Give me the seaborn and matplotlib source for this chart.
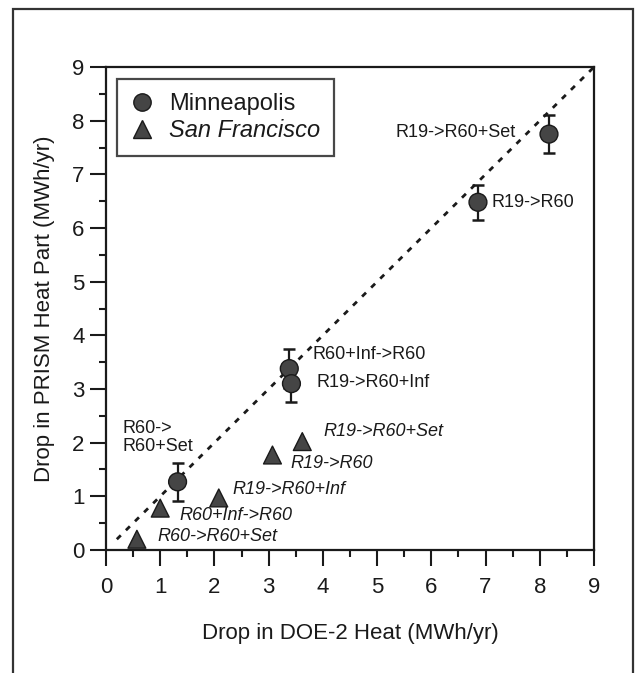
import matplotlib
matplotlib.use("Agg")
import matplotlib.pyplot as plt
from matplotlib.lines import Line2D
from matplotlib.patches import Rectangle
import numpy as np
import pandas as pd
import seaborn as sns

# ---- data ----
mpls_x = [8.17, 6.86, 3.38, 3.42, 1.32]
mpls_y = [7.75, 6.48, 3.38, 3.10, 1.27]
mpls_err = [0.35, 0.33, 0.36, 0.34, 0.35]
mpls_labels = ["R19->R60+Set", "R19->R60", "R60+Inf->R60", "R19->R60+Inf", "R60->\nR60+Set"]

sf_x = [3.62, 3.07, 2.08, 1.00, 0.57]
sf_y = [2.02, 1.77, 0.97, 0.78, 0.20]
sf_labels = ["R19->R60+Set", "R19->R60", "R19->R60+Inf", "R60+Inf->R60", "R60->R60+Set"]

diag = [0.2, 9.0]
ticks = list(range(0, 10))

# label offsets (points) and alignment
mpls_off = [(-24, 1), (10, 0), (17, 10), (18, 1), (-40, 32)]
mpls_ha = ["right", "left", "left", "left", "left"]
sf_off = [(15, 7), (13, -6), (10, 6), (14, -5), (15, 2)]

sns.set_style("ticks")
plt.rcParams["font.family"] = ["Liberation Sans", "DejaVu Sans"]
ink = "#1a1a1a"
fill = "#454545"

fig = plt.figure(figsize=(6.37, 6.73), dpi=100)
ax = fig.add_axes([0.1664, 0.1828, 0.9325 - 0.1664, 0.9004 - 0.1828])

# figure frame
fig.patches.append(Rectangle((13 / 637, -0.1), (633 - 13) / 637, 0.1 + (673 - 9) / 673,
                             transform=fig.transFigure, fill=False, lw=1.6,
                             edgecolor="#333333", zorder=0))

df = pd.DataFrame({
    "x": mpls_x + sf_x,
    "y": mpls_y + sf_y,
    "city": ["Minneapolis"] * len(mpls_x) + ["San Francisco"] * len(sf_x),
})

ax.plot(diag, diag, linestyle=(0, (2, 2.6)), color=ink, lw=2.0, zorder=1)
ax.errorbar(mpls_x, mpls_y, yerr=mpls_err, fmt="none", ecolor=ink,
            elinewidth=1.6, capsize=4.5, capthick=1.8, zorder=2)
sns.scatterplot(data=df, x="x", y="y", style="city",
                markers={"Minneapolis": "o", "San Francisco": "^"},
                color=fill, edgecolor=ink, linewidth=1.0, s=165,
                legend=False, ax=ax, zorder=3)

for xv, yv, lab, off, ha in zip(mpls_x, mpls_y, mpls_labels, mpls_off, mpls_ha):
    ax.annotate(lab, (xv, yv), xytext=off, textcoords="offset points",
                ha=ha, va="center", fontsize=13, color=ink, linespacing=1.05)
for xv, yv, lab, off in zip(sf_x, sf_y, sf_labels, sf_off):
    ax.annotate(lab, (xv, yv), xytext=off, textcoords="offset points",
                ha="left", va="center", fontsize=13, color=ink, style="italic")

ax.set_xlim(0, 9)
ax.set_ylim(0, 9)
ax.set_xticks(ticks)
ax.set_yticks(ticks)
ax.set_xticks(np.arange(0.5, 9, 1.0), minor=True)
ax.set_yticks(np.arange(0.5, 9, 1.0), minor=True)
ax.tick_params(which="major", direction="out", length=11.5, width=1.5, colors=ink,
               labelsize=16)
ax.tick_params(which="minor", direction="out", length=5, width=1.5, colors=ink)
ax.tick_params(axis="x", which="major", pad=8)
ax.tick_params(axis="y", which="major", pad=4)
for s in ax.spines.values():
    s.set_linewidth(1.6)
    s.set_color(ink)
    s.set_visible(True)

ax.set_xlabel("Drop in DOE-2 Heat (MWh/yr)", fontsize=16, color=ink, labelpad=18)
ax.set_ylabel("Drop in PRISM Heat Part (MWh/yr)", fontsize=16, color=ink, labelpad=12)

handles = [
    Line2D([], [], marker="o", linestyle="none", markersize=12.5,
           markerfacecolor=fill, markeredgecolor=ink),
    Line2D([], [], marker="^", linestyle="none", markersize=12.5,
           markerfacecolor=fill, markeredgecolor=ink),
]
leg = ax.legend(handles, ["Minneapolis", "San Francisco"], loc="upper left",
                bbox_to_anchor=(0.0225, 0.975), borderaxespad=0, fontsize=17,
                frameon=True, fancybox=False, edgecolor=ink, borderpad=0.6,
                handlelength=0.9, handletextpad=0.7, labelspacing=0.15)
leg.get_frame().set_linewidth(1.6)
for t in leg.get_texts():
    t.set_color(ink)
leg.get_texts()[1].set_style("italic")

fig.savefig("out.png", dpi=100)
